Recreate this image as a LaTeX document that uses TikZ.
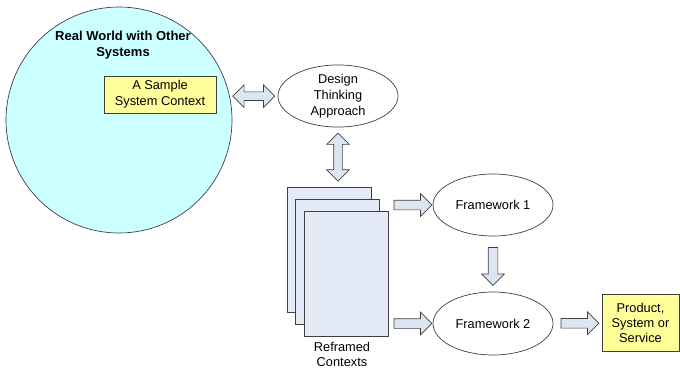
\documentclass[tikz,border=0pt]{standalone}
\usepackage{fontspec}
\setmainfont{Liberation Sans}
\usetikzlibrary{shapes.arrows}
\usetikzlibrary{shapes.geometric}
\usetikzlibrary{calc}
\definecolor{worldcolor}{HTML}{CCFFFF}
\definecolor{notecolor}{HTML}{FFFF99}
\definecolor{arrowcolor}{HTML}{DCE6F2}
\definecolor{pagecolor}{HTML}{E4EBF7}

\tikzset{
  outline/.style={draw=black!75,line width=0.7pt},
  note/.style={outline,fill=notecolor,align=center,inner sep=0pt},
  idea/.style={outline,ellipse,fill=white,minimum width=120pt,minimum height=62pt,inner sep=0pt,align=center},
  page/.style={outline,fill=pagecolor,minimum width=84pt,minimum height=125pt,inner sep=0pt},
  fatarrow/.style={outline,fill=arrowcolor,single arrow,single arrow head extend=6.5pt,inner sep=4.5pt,minimum height=38pt},
  twinarrow/.style={outline,fill=arrowcolor,double arrow,double arrow head extend=7pt,inner sep=4pt},
}

\begin{document}
\begin{tikzpicture}[x=1pt,y=-1pt,font=\fontsize{12.8}{16}\selectfont]
\useasboundingbox (0,0) rectangle (680,370);
%% left side: the world and the sample context
\node[outline,circle,fill=worldcolor,minimum size=226pt,inner sep=0pt] (world) at (119,120) {};
\node[align=center,font=\fontsize{13}{16}\selectfont\bfseries] (title) at (123,45) {Real World with Other\\Systems};
\node[note,minimum width=112pt,minimum height=37pt] (sample) at (160,94.5) {A Sample\\System Context};
\node[idea] (design) at (338,96) {Design\\Thinking\\Approach};
%% reframed contexts, stacked
\node[page] (page1) at (329.5,249.5) {};
\node[page] (page2) at (337.5,261.5) {};
\node[page] (page3) at (346,274) {};
\node[align=center,anchor=north,font=\fontsize{12.8}{15}\selectfont] (reframed) at (342,339) {Reframed\\Contexts};
%% frameworks and the result
\node[idea] (fw1) at (493,205) {Framework 1};
\node[idea,minimum height=63pt] (fw2) at (493,323.5) {Framework 2};
\node[note,minimum width=77pt,minimum height=57pt,font=\fontsize{12.8}{15}\selectfont] (product) at (640.5,323) {Product,\\System or\\Service};
%% block arrows
\node[twinarrow,minimum height=42pt] (a1) at ($(world.12)!0.5!(design.west)$) {};
\node[twinarrow,minimum height=48pt,shape border rotate=90] (a2) at ($(design.south)!0.5!(design.south |- page1.north)$) {};
\node[fatarrow] (a3) at ($(page3.east |- fw1)!0.5!(fw1.west)$) {};
\node[fatarrow] (a4) at ($(page3.east |- fw2)!0.5!(fw2.west)$) {};
\node[fatarrow,shape border rotate=270] (a5) at ($(fw1.south)!0.5!(fw2.north)$) {};
\node[fatarrow] (a6) at ($(fw2.east)!0.5!(product.west)$) {};
\end{tikzpicture}
\end{document}
